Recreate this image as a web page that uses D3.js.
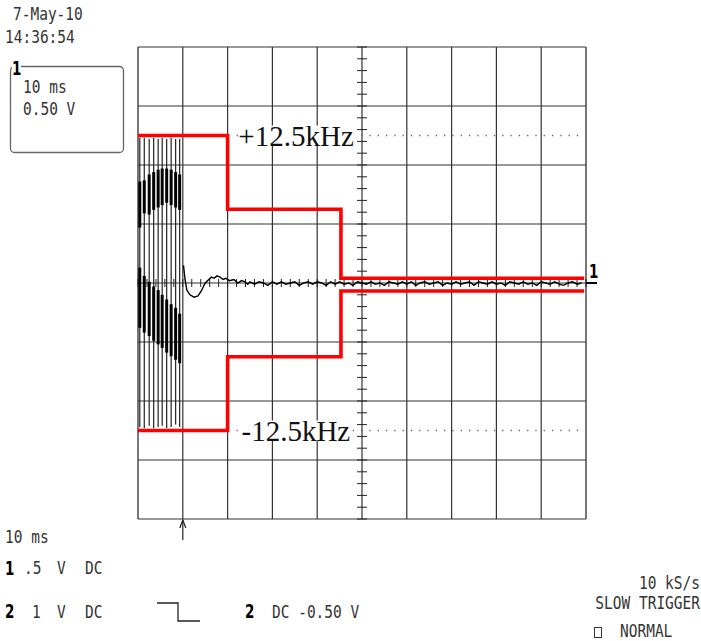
<!DOCTYPE html>
<html>
<head>
<meta charset="utf-8">
<script src="https://cdn.jsdelivr.net/npm/d3@7"></script>
<style>
  body { margin: 0; background: #fff; }
  svg { display: block; }
</style>
</head>
<body>
<svg id="scope" width="701" height="641"></svg>
<script>
// screen: 10 ms/div horizontally, 0.5 V/div vertically (8 divs), limits in kHz at 5 kHz/div
const timeDomain = [0, 100];      // ms
const voltDomain = [-2, 2];       // V
const freqDomain = [-20, 20];     // kHz

// burst: spikes inside the first division
const spikeMs  = [0.4, 1.4, 2.5, 3.5, 4.5, 5.4, 6.4, 7.4, 8.4, 9.3];
const spikeHiV = [1.23, 1.23, 1.22, 1.23, 1.22, 1.23, 1.22, 1.23, 1.22, 1.22];
const spikeLoV = [-1.22, -1.23, -1.21, -1.23, -1.22, -1.21, -1.23, -1.22, -1.20, -1.22];
// dense parts of each spike (upper and lower bands)
const upTopV  = [0.86, 0.87, 0.92, 0.94, 0.96, 0.97, 0.97, 0.96, 0.94, 0.92];
const upBotV  = [0.47, 0.59, 0.58, 0.62, 0.64, 0.66, 0.68, 0.66, 0.64, 0.62];
const lowTopV = [0.13, 0.06, 0.01, -0.03, -0.06, -0.10, -0.14, -0.18, -0.21, -0.26];
const lowBotV = [-0.38, -0.42, -0.45, -0.49, -0.52, -0.55, -0.59, -0.62, -0.65, -0.68];

// settling tail after the burst
const tailMs = [10.15, 10.5, 10.9, 11.6, 12.5, 13.4, 14.1, 15.0, 15.8, 16.4, 17.0, 17.6, 18.3, 19.0, 19.6, 20.4, 21.4, 22.3, 23.1, 23.9, 24.5];
const tailV  = [0.15, 0.03, -0.06, -0.10, -0.12, -0.11, -0.07, 0.00, 0.03, 0.05, 0.04, 0.06, 0.05, 0.03, 0.04, 0.02, 0.03, 0.00, 0.02, 0.01, -0.01];

// residual noise, 1 ms apart, 25 ms .. 99 ms
const noiseStartMs = 25;
const noiseV = [
  0.01, -0.01, 0.01, 0.00, -0.02, 0.01, -0.01, 0.01, -0.01, 0.00, 0.01, -0.02, 0.00, 0.01, -0.01, 0.01, 0.00, -0.02, 0.01, -0.01,
  0.01, -0.01, 0.00, -0.02, 0.01, 0.00, -0.01, 0.01, -0.01, 0.00, -0.02, 0.01, 0.00, -0.01, 0.01, -0.01, 0.01, -0.02, 0.00, 0.01,
  -0.01, 0.00, 0.01, -0.02, 0.00, -0.01, 0.01, -0.01, 0.00, 0.01, -0.02, 0.01, 0.00, -0.01, 0.01, -0.01, 0.00, -0.02, 0.01, 0.00,
  -0.01, 0.01, -0.01, 0.00, -0.02, 0.01, 0.00, -0.01, 0.01, -0.01, -0.02, 0.00, 0.01, -0.01, 0.00
];

// red frequency mask (ms, kHz)
const maskUpper = [[0, 12.5], [20, 12.5], [20, 6.25], [45.3, 6.25], [45.3, 0.4], [99.6, 0.4]];
const maskLower = [[0, -12.5], [20, -12.5], [20, -6.25], [45.3, -6.25], [45.3, -0.68], [99.6, -0.68]];
const maskLabels = ["+12.5kHz", "-12.5kHz"];
const maskLabelMs = [22.4, 23.1];
const dottedKHz = [12.5, -12.5];

const svg = d3.select("#scope");

const x = d3.scaleLinear().domain(timeDomain).range([138, 586]);
const y = d3.scaleLinear().domain(voltDomain).range([519, 47]);
const f = d3.scaleLinear().domain(freqDomain).range([519, 47]);

// ---- graticule ----
const grid = svg.append("g");
grid.selectAll("line.v").data(x.ticks(10)).enter().append("line")
  .attr("x1", d => x(d)).attr("x2", d => x(d))
  .attr("y1", y(2)).attr("y2", y(-2))
  .attr("stroke", d => (d === 0 || d === 100) ? "#777" : "#333")
  .attr("stroke-width", d => (d === 0 || d === 100) ? 2 : 1.2);
grid.selectAll("line.h").data(y.ticks(8)).enter().append("line")
  .attr("x1", x(0)).attr("x2", x(100))
  .attr("y1", d => y(d)).attr("y2", d => y(d))
  .attr("stroke", "#333").attr("stroke-width", 1.2);

// minor ticks on the centre axes
grid.selectAll("line.tx").data(d3.range(0, 101, 2)).enter().append("line")
  .attr("x1", d => x(d)).attr("x2", d => x(d))
  .attr("y1", y(0) - 4).attr("y2", y(0) + 4)
  .attr("stroke", "#222").attr("stroke-width", 1);
grid.selectAll("line.ty").data(d3.range(-20, 21).map(d => d / 10)).enter().append("line")
  .attr("x1", x(50) - 5).attr("x2", x(50) + 5)
  .attr("y1", d => y(d)).attr("y2", d => y(d))
  .attr("stroke", "#222").attr("stroke-width", 1);

// dotted limit lines
svg.selectAll("line.dot").data(dottedKHz).enter().append("line")
  .attr("x1", x(22)).attr("x2", x(99))
  .attr("y1", d => f(d)).attr("y2", d => f(d))
  .attr("stroke", "#666").attr("stroke-width", 1.3)
  .attr("stroke-dasharray", "1.3,7");

// ---- trace ----
const trace = svg.append("g");
spikeMs.forEach((t, i) => {
  trace.append("line")
    .attr("x1", x(t)).attr("x2", x(t))
    .attr("y1", y(spikeHiV[i])).attr("y2", y(spikeLoV[i]))
    .attr("stroke", "#222").attr("stroke-width", 1.2);
  trace.append("line")
    .attr("x1", x(t)).attr("x2", x(t))
    .attr("y1", y(upTopV[i])).attr("y2", y(upBotV[i]))
    .attr("stroke", "#000").attr("stroke-width", 3);
  trace.append("line")
    .attr("x1", x(t)).attr("x2", x(t))
    .attr("y1", y(lowTopV[i])).attr("y2", y(lowBotV[i]))
    .attr("stroke", "#000").attr("stroke-width", 3);
});

const tracePts = tailMs.map((t, i) => [t, tailV[i]])
  .concat(noiseV.map((v, i) => [noiseStartMs + i, v]));
const line = d3.line().x(d => x(d[0])).y(d => y(d[1]));
trace.append("path")
  .attr("d", line(tracePts))
  .attr("fill", "none").attr("stroke", "#000").attr("stroke-width", 1.4);

// channel 1 ground marker
svg.append("line")
  .attr("x1", x(100)).attr("x2", x(100) + 11)
  .attr("y1", y(0)).attr("y2", y(0))
  .attr("stroke", "#000").attr("stroke-width", 2);

// ---- red mask ----
const fline = d3.line().x(d => x(d[0])).y(d => f(d[1]));
svg.selectAll("path.mask").data([maskUpper, maskLower]).enter().append("path")
  .attr("d", d => fline(d))
  .attr("fill", "none").attr("stroke", "#ff0000").attr("stroke-width", 3.6)
  .attr("stroke-linejoin", "miter");

// mask labels
maskLabels.forEach((s, i) => {
  const t = svg.append("text")
    .attr("x", x(maskLabelMs[i])).attr("y", f(dottedKHz[i]) + 10)
    .attr("font-family", "Liberation Serif").attr("font-size", 29)
    .attr("fill", "#111").text(s);
  const b = t.node().getBBox();
  svg.insert("rect", "text")
    .attr("x", b.x).attr("y", b.y + 6).attr("width", b.width).attr("height", b.height - 12)
    .attr("fill", "#fff");
});

// ---- text ----
function mono(xp, yp, s, anchor) {
  svg.append("text")
    .attr("transform", `translate(${xp},${yp}) scale(1,1.22)`)
    .attr("font-family", "DejaVu Sans Mono").attr("font-size", 14.5)
    .attr("text-anchor", anchor || "start")
    .attr("fill", "#333").text(s);
}
function bold(xp, yp, s) {
  svg.append("text")
    .attr("transform", `translate(${xp},${yp}) scale(0.9,1.25)`)
    .attr("font-family", "DejaVu Sans").attr("font-weight", "bold").attr("font-size", 15)
    .attr("fill", "#000").text(s);
}

mono(13, 20, "7-May-10");
mono(5, 43, "14:36:54");

// channel box
svg.append("rect")
  .attr("x", 10.5).attr("y", 66.5).attr("width", 113).attr("height", 86).attr("rx", 4)
  .attr("fill", "none").attr("stroke", "#666").attr("stroke-width", 1.3);
svg.append("rect").attr("x", 12).attr("y", 60).attr("width", 9).attr("height", 10).attr("fill", "#fff");
bold(12, 75, "1");
mono(23, 93, "10 ms");
mono(23, 115, "0.50 V");

// channel marker on the right
bold(589, 278, "1");

// trigger arrow
const trig = svg.append("g").attr("stroke", "#222").attr("stroke-width", 1.2).attr("fill", "none");
trig.append("line").attr("x1", x(10)).attr("x2", x(10)).attr("y1", 520).attr("y2", 540);
trig.append("path").attr("d", `M${x(10) - 3},528 L${x(10)},520 L${x(10) + 3},528`);

// bottom left settings
mono(5, 543, "10 ms");
bold(5, 575, "1");
mono(24, 574, ".5");
mono(57, 574, "V");
mono(85, 574, "DC");
bold(5, 618, "2");
mono(32, 618, "1");
mono(57, 618, "V");
mono(85, 618, "DC");
svg.append("path")
  .attr("d", "M157,603 L178,603 L178,621 L200,621")
  .attr("fill", "none").attr("stroke", "#222").attr("stroke-width", 1.3);
bold(245, 618, "2");
mono(272, 618, "DC -0.50 V");

// bottom right
mono(700, 589, "10 kS/s", "end");
mono(700, 609, "SLOW TRIGGER", "end");
svg.append("rect").attr("x", 594.5).attr("y", 627.5).attr("width", 7).attr("height", 10)
  .attr("fill", "none").attr("stroke", "#333").attr("stroke-width", 1);
mono(620, 637, "NORMAL");
</script>
</body>
</html>
